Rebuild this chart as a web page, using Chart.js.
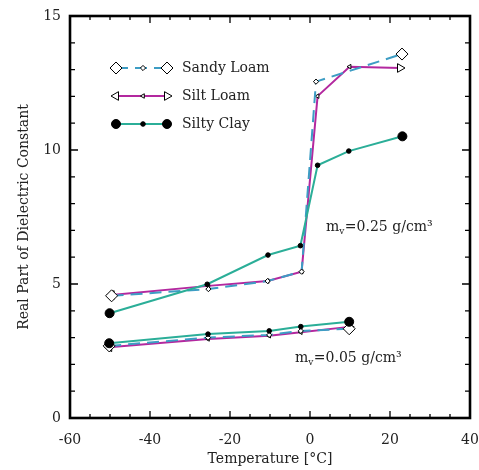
<!DOCTYPE html>
<html>
<head>
<meta charset="utf-8">
<script src="https://cdn.jsdelivr.net/npm/chart.js@4.4.1/dist/chart.umd.min.js"></script>
<style>
  body { margin: 0; background: #fff; }
</style>
</head>
<body>
<canvas id="dielectricChart" width="479" height="470"></canvas>
<script>
// values: temperature [°C] and real part of dielectric constant
// mv = 0.25 g/cm3
const tempSandyHigh = [-49.6, -25.4, -10.6, -2.1, 1.5, 23];
const epsSandyHigh = [4.56, 4.81, 5.11, 5.46, 12.55, 13.58];
const tempSiltHigh = [-49.6, -25.4, -10.6, -2.1, 1.9, 9.9, 22.5];
const epsSiltHigh = [4.59, 4.93, 5.11, 5.46, 12.01, 13.11, 13.06];
const tempClayHigh = [-50.1, -25.7, -10.5, -2.4, 1.9, 9.7, 23.1];
const epsClayHigh = [3.91, 4.99, 6.08, 6.43, 9.43, 9.96, 10.51];

// mv = 0.05 g/cm3
const tempLow = [-50.2, -25.5, -10.2, -2.3, 9.8];
const epsSandyLow = [2.69, 3.0, 3.1, 3.25, 3.33];
const epsSiltLow = [2.64, 2.95, 3.07, 3.2, 3.4];
const epsClayLow = [2.79, 3.13, 3.25, 3.41, 3.59];

const xTicks = [-60, -40, -20, 0, 20, 40];
const yTicks = [0, 5, 10, 15];

const seriesNames = ['Sandy Loam', 'Silt Loam', 'Silty Clay'];

const sandyColor = '#3d9dc4';
const siltColor = '#b3289f';
const clayColor = '#2bae98';
const serif = '"DejaVu Serif", serif';

function toPoints(xs, ys) {
  return xs.map((x, i) => ({x: x, y: ys[i]}));
}

function xsIndex(n) {
  return Array.from({length: n}, (_, i) => i);
}
// big marker at both ends of a curve, small ones in between
function ends(n, big, small) {
  return xsIndex(n).map(i => (i === 0 || i === n - 1) ? big : small);
}

function sandySet(xs, ys) {
  const n = xs.length;
  return {
    label: 'Sandy Loam',
    data: toPoints(xs, ys),
    borderColor: sandyColor,
    borderWidth: 2,
    borderDash: [12, 7],
    pointStyle: 'rectRot',
    pointRadius: ends(n, 6, 2.6),
    pointBackgroundColor: '#fff',
    pointBorderColor: '#000',
    pointBorderWidth: 1
  };
}

function siltSet(xs, ys) {
  const n = xs.length;
  return {
    label: 'Silt Loam',
    data: toPoints(xs, ys),
    borderColor: siltColor,
    borderWidth: 2,
    pointStyle: 'triangle',
    pointRotation: xsIndex(n).map(i => i === n - 1 ? 90 : -90),
    pointRadius: ends(n, 5, 2.6),
    pointBackgroundColor: '#fff',
    pointBorderColor: '#000',
    pointBorderWidth: 1
  };
}

function claySet(xs, ys) {
  const n = xs.length;
  return {
    label: 'Silty Clay',
    data: toPoints(xs, ys),
    borderColor: clayColor,
    borderWidth: 2,
    pointStyle: 'circle',
    pointRadius: ends(n, 4.5, 2.3),
    pointBackgroundColor: '#000',
    pointBorderColor: '#000',
    pointBorderWidth: 1
  };
}

// small marker painter for the hand drawn legend
function marker(ctx, kind, x, y, r) {
  ctx.beginPath();
  if (kind === 'diamond') {
    ctx.moveTo(x, y - r); ctx.lineTo(x + r, y); ctx.lineTo(x, y + r); ctx.lineTo(x - r, y);
  } else if (kind === 'left') {
    ctx.moveTo(x - r, y); ctx.lineTo(x + r / 2, y - r * 0.866); ctx.lineTo(x + r / 2, y + r * 0.866);
  } else if (kind === 'right') {
    ctx.moveTo(x + r, y); ctx.lineTo(x - r / 2, y - r * 0.866); ctx.lineTo(x - r / 2, y + r * 0.866);
  } else {
    ctx.arc(x, y, r, 0, Math.PI * 2);
  }
  ctx.closePath();
  ctx.fillStyle = kind === 'circle' ? '#000' : '#fff';
  ctx.fill();
  ctx.lineWidth = 1;
  ctx.strokeStyle = '#000';
  ctx.stroke();
}

const legendRows = [
  {color: sandyColor, dash: [12, 7], left: 'diamond', mid: 'diamond', right: 'diamond', big: 6, small: 2.6, y: 68},
  {color: siltColor, dash: [], left: 'left', mid: 'left', right: 'right', big: 5, small: 2.6, y: 96},
  {color: clayColor, dash: [], left: 'circle', mid: 'circle', right: 'circle', big: 4.5, small: 2.3, y: 124}
];

const decorations = {
  id: 'decorations',
  afterDraw(chart) {
    const {ctx, chartArea: a, scales: {x, y}} = chart;
    ctx.save();

    // inward ticks on all four sides
    ctx.strokeStyle = '#000';
    ctx.lineWidth = 1.3;
    ctx.beginPath();
    for (let v = -60; v <= 40; v += 5) {
      const px = x.getPixelForValue(v);
      const len = v % 20 === 0 ? 7 : 4;
      ctx.moveTo(px, a.bottom); ctx.lineTo(px, a.bottom - len);
      ctx.moveTo(px, a.top); ctx.lineTo(px, a.top + len);
    }
    for (let v = 0; v <= 15; v += 1) {
      const py = y.getPixelForValue(v);
      const len = v % 5 === 0 ? 8 : 5;
      ctx.moveTo(a.left, py); ctx.lineTo(a.left + len, py);
      ctx.moveTo(a.right, py); ctx.lineTo(a.right - len, py);
    }
    ctx.stroke();

    // frame
    ctx.lineWidth = 2.6;
    ctx.strokeRect(a.left, a.top, a.right - a.left, a.bottom - a.top);

    // legend
    legendRows.forEach((row, i) => {
      ctx.save();
      ctx.strokeStyle = row.color;
      ctx.lineWidth = 2;
      ctx.setLineDash(row.dash);
      ctx.beginPath();
      ctx.moveTo(116, row.y);
      ctx.lineTo(167, row.y);
      ctx.stroke();
      ctx.restore();
      marker(ctx, row.left, 116, row.y, row.big);
      marker(ctx, row.mid, 143, row.y, row.small);
      marker(ctx, row.right, 167, row.y, row.big);
      ctx.fillStyle = '#222';
      ctx.font = '14px ' + serif;
      ctx.textBaseline = 'middle';
      ctx.textAlign = 'left';
      ctx.fillText(seriesNames[i], 182, row.y);
    });

    // moisture labels
    const drawMv = (value, x0, base) => {
      ctx.fillStyle = '#222';
      ctx.textBaseline = 'alphabetic';
      ctx.textAlign = 'left';
      ctx.font = '14px ' + serif;
      ctx.fillText('m', x0, base);
      let xx = x0 + ctx.measureText('m').width;
      ctx.font = '9px ' + serif;
      ctx.fillText('v', xx, base + 3);
      xx += ctx.measureText('v').width + 0.5;
      ctx.font = '14px ' + serif;
      ctx.fillText('=' + value + ' g/cm\u00b3', xx, base);
    };
    drawMv('0.25', 326, 231);
    drawMv('0.05', 295, 362);

    ctx.restore();
  }
};

const ctx = document.getElementById('dielectricChart').getContext('2d');

const dielectricChart = new Chart(ctx, {
  type: 'scatter',
  data: {
    datasets: [
      claySet(tempClayHigh, epsClayHigh),
      claySet(tempLow, epsClayLow),
      sandySet(tempSandyHigh, epsSandyHigh),
      sandySet(tempLow, epsSandyLow),
      siltSet(tempSiltHigh, epsSiltHigh),
      siltSet(tempLow, epsSiltLow)
    ]
  },
  options: {
    responsive: false,
    animation: false,
    showLine: true,
    layout: {padding: {left: 0, right: 9, top: 16, bottom: 0}},
    elements: {line: {tension: 0}},
    plugins: {
      legend: {display: false},
      tooltip: {enabled: false}
    },
    scales: {
      x: {
        type: 'linear',
        min: -60,
        max: 40,
        afterBuildTicks: (scale) => { scale.ticks = xTicks.map(v => ({value: v})); },
        afterFit: (scale) => {
          scale.height = 52;
          scale.paddingLeft = 0;
          scale.paddingRight = 0;
        },
        grid: {display: false, drawTicks: false},
        border: {display: false},
        ticks: {padding: 14, color: '#222', font: {family: serif, size: 14}},
        title: {
          display: true,
          text: 'Temperature [\u00b0C]',
          color: '#222',
          font: {family: serif, size: 14},
          padding: {top: 0, bottom: 2}
        }
      },
      y: {
        type: 'linear',
        min: 0,
        max: 15,
        afterBuildTicks: (scale) => { scale.ticks = yTicks.map(v => ({value: v})); },
        afterFit: (scale) => {
          scale.width = 70;
          scale.paddingTop = 0;
          scale.paddingBottom = 0;
        },
        grid: {display: false, drawTicks: false},
        border: {display: false},
        ticks: {padding: 9, color: '#222', font: {family: serif, size: 14}},
        title: {
          display: true,
          text: 'Real Part of Dielectric Constant',
          color: '#222',
          font: {family: serif, size: 14},
          padding: {top: 16, bottom: 0}
        }
      }
    }
  },
  plugins: [decorations]
});
</script>
</body>
</html>
